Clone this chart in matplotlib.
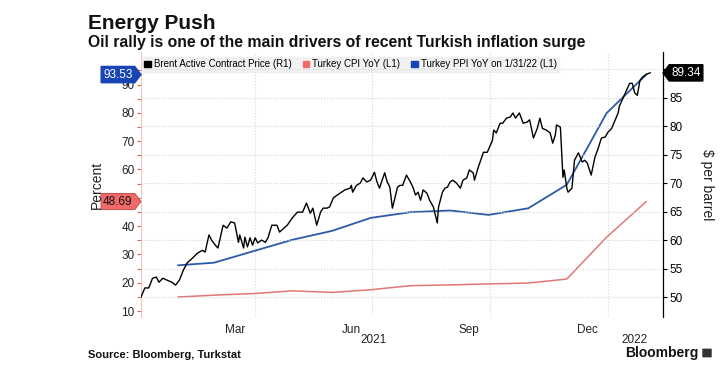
import matplotlib
matplotlib.use("Agg")
import matplotlib.pyplot as plt
from matplotlib.patches import Patch, FancyBboxPatch
from matplotlib.path import Path
import pandas as pd

plt.rcParams['font.family'] = ['Liberation Sans Narrow', 'Liberation Sans', 'DejaVu Sans']

# ---------------- data ----------------
brent_dates = [
    "2021-01-02","2021-01-05","2021-01-08","2021-01-11","2021-01-14","2021-01-16","2021-01-19",
    "2021-01-22","2021-01-26","2021-01-29","2021-02-01","2021-02-04","2021-02-07","2021-02-11",
    "2021-02-15","2021-02-19","2021-02-21","2021-02-24","2021-02-26","2021-03-01","2021-03-03",
    "2021-03-07","2021-03-10","2021-03-13","2021-03-16","2021-03-19","2021-03-20","2021-03-23",
    "2021-03-24","2021-03-26","2021-03-28","2021-03-30","2021-04-01","2021-04-03","2021-04-06",
    "2021-04-09","2021-04-11","2021-04-14","2021-04-18","2021-04-20","2021-04-22","2021-04-26",
    "2021-04-30","2021-05-04","2021-05-08","2021-05-11","2021-05-14","2021-05-16","2021-05-19",
    "2021-05-22","2021-05-24","2021-05-27","2021-05-29","2021-06-01","2021-06-04","2021-06-06",
    "2021-06-10","2021-06-14","2021-06-15","2021-06-16","2021-06-19","2021-06-22","2021-06-24",
    "2021-06-27","2021-06-30","2021-07-03","2021-07-05","2021-07-07","2021-07-09","2021-07-11",
    "2021-07-13","2021-07-15","2021-07-17","2021-07-19","2021-07-21","2021-07-23","2021-07-25",
    "2021-07-28","2021-07-31","2021-08-02","2021-08-04","2021-08-06","2021-08-08","2021-08-10",
    "2021-08-13","2021-08-15","2021-08-18","2021-08-21","2021-08-22","2021-08-25","2021-08-27",
    "2021-08-29","2021-08-31","2021-09-02","2021-09-05","2021-09-08","2021-09-10","2021-09-13",
    "2021-09-15","2021-09-18","2021-09-19","2021-09-22","2021-09-26","2021-09-29","2021-10-03",
    "2021-10-04","2021-10-06","2021-10-09","2021-10-11","2021-10-14","2021-10-17","2021-10-19",
    "2021-10-21","2021-10-24","2021-10-27","2021-10-30","2021-11-01","2021-11-04","2021-11-07",
    "2021-11-09","2021-11-11","2021-11-14","2021-11-17","2021-11-19","2021-11-21","2021-11-22",
    "2021-11-25","2021-11-27","2021-11-28","2021-11-30","2021-12-01","2021-12-04","2021-12-06",
    "2021-12-09","2021-12-12","2021-12-14","2021-12-16","2021-12-19","2021-12-22","2021-12-24",
    "2021-12-27","2021-12-30","2022-01-01","2022-01-04","2022-01-06","2022-01-09","2022-01-10",
    "2022-01-13","2022-01-16","2022-01-18","2022-01-20","2022-01-22","2022-01-24","2022-01-26",
    "2022-01-28","2022-01-31","2022-02-03",
]
brent_values = [
    50.0, 51.6, 51.6, 53.3, 53.5, 52.6, 53.3,
    53.0, 52.6, 52.1, 53.0, 54.7, 56.0, 56.8,
    57.7, 58.2, 57.9, 60.9, 60.0, 59.1, 58.6,
    62.6, 62.1, 63.2, 63.0, 59.6, 60.9, 58.6,
    60.5, 58.8, 60.4, 59.1, 60.4, 59.5, 60.0,
    59.6, 60.4, 62.6, 62.6, 61.4, 61.8, 62.6,
    63.9, 64.9, 64.9, 66.5, 64.7, 65.6, 62.6,
    64.9, 65.6, 65.6, 65.8, 67.4, 67.9, 68.2,
    68.8, 69.1, 69.6, 68.4, 69.6, 70.0, 70.9,
    70.2, 70.5, 71.9, 70.2, 69.1, 70.5, 71.8,
    70.2, 69.3, 65.6, 67.4, 69.3, 69.6, 69.6,
    71.4, 70.2, 69.3, 67.9, 68.4, 67.0, 68.8,
    68.2, 67.0, 65.8, 63.0, 65.8, 68.4, 69.1,
    69.3, 70.2, 70.5, 70.0, 69.1, 70.5, 70.9,
    72.3, 71.8, 70.5, 72.8, 75.4, 75.4, 77.5,
    79.3, 78.8, 80.5, 80.5, 81.4, 81.6, 82.3,
    81.4, 82.3, 80.5, 80.7, 81.1, 77.9, 79.6,
    81.4, 79.6, 79.3, 78.8, 77.0, 78.4, 80.2,
    79.8, 71.0, 72.3, 69.1, 68.4, 69.1, 74.0,
    75.3, 73.7, 74.0, 73.5, 71.4, 74.6, 75.8,
    77.9, 78.1, 78.9, 79.6, 80.7, 82.3, 83.5,
    85.0, 86.5, 87.5, 87.5, 85.8, 85.4, 88.0,
    88.6, 89.1, 89.34,
]

infl_dates = ["2021-01-31","2021-02-28","2021-03-31","2021-04-30","2021-05-31","2021-06-30",
              "2021-07-31","2021-08-31","2021-09-30","2021-10-31","2021-11-30","2021-12-31",
              "2022-01-31"]
cpi_values = [14.97, 15.61, 16.19, 17.14, 16.59, 17.53, 18.95, 19.25, 19.58, 19.89, 21.31, 36.08, 48.69]
ppi_values = [26.16, 27.09, 31.20, 35.17, 38.33, 42.89, 44.92, 45.52, 43.96, 46.31, 54.62, 79.89, 93.53]

legend_labels = ["Brent Active Contract Price (R1)", "Turkey CPI YoY (L1)", "Turkey PPI YoY on 1/31/22 (L1)"]
month_labels = ["Mar", "Jun", "Sep", "Dec"]
month_label_dates = ["2021-03-16", "2021-06-15", "2021-09-15", "2021-12-16"]
quarter_dates = ["2021-04-01", "2021-07-01", "2021-10-01", "2022-01-01"]
year_labels = ["2021", "2022"]
year_label_dates = ["2021-07-02", "2022-01-22"]
left_ticks = [10, 20, 30, 40, 50, 60, 70, 80, 90]
right_ticks = [50, 55, 60, 65, 70, 75, 80, 85, 90]

# colors
C_BRENT = "#000000"
C_CPI = "#e07878"
C_PPI = "#2b5aa8"
C_CPI_TAG = "#f06a6a"
C_PPI_TAG = "#1845b5"


def tag_right(x0, y0, width, height, mutation_size):
    pad = mutation_size * 0.18
    x0 -= pad; y0 -= pad
    w = width + 2 * pad; h = height + 2 * pad
    tip = h * 0.38
    verts = [(x0, y0), (x0 + w, y0), (x0 + w + tip, y0 + h / 2), (x0 + w, y0 + h), (x0, y0 + h), (x0, y0)]
    return Path(verts, closed=True)


def tag_left(x0, y0, width, height, mutation_size):
    pad = mutation_size * 0.18
    x0 -= pad; y0 -= pad
    w = width + 2 * pad; h = height + 2 * pad
    tip = h * 0.38
    verts = [(x0, y0), (x0 + w, y0), (x0 + w, y0 + h), (x0, y0 + h), (x0 - tip, y0 + h / 2), (x0, y0)]
    return Path(verts, closed=True)


bd = pd.to_datetime(brent_dates)
idt = pd.to_datetime(infl_dates)

fig = plt.figure(figsize=(7.2, 3.75), dpi=100)
ax = fig.add_axes([141/720, 1-317/375, (663-141)/720, (317-52)/375])
ax2 = ax.twinx()

ax.plot(idt, cpi_values, color=C_CPI, lw=1.1)
ax.plot(idt, ppi_values, color=C_PPI, lw=1.3)
ax2.plot(bd, brent_values, color=C_BRENT, lw=1.0)

ax.set_xlim(pd.Timestamp("2021-01-02"), pd.Timestamp("2022-02-13"))
ax.set_ylim(7.9, 101.5)
ax2.set_ylim(46.5, 93.0)

# left axis
ax.set_yticks(left_ticks)
ax.set_yticklabels([str(t) if t != 50 else "" for t in left_ticks])
ax.set_yticks(list(range(15, 101, 10)), minor=True)
ax.tick_params(axis='y', which='both', colors="#e06060", length=3, width=0.8, labelcolor='#222222', labelsize=8.5, pad=1.5)
ax.spines['left'].set_color("#f2c4c4")
ax.spines['left'].set_linewidth(0.8)
for s in ['top', 'bottom', 'right']:
    ax.spines[s].set_visible(False)
for s in ['top', 'bottom', 'left']:
    ax2.spines[s].set_visible(False)
ax2.spines['right'].set_color('black')
ax2.spines['right'].set_linewidth(0.9)
ax2.set_yticks(right_ticks)
ax2.set_yticklabels([str(t) if t < 90 else "" for t in right_ticks])
ax2.tick_params(axis='y', colors='black', length=3, width=0.8, labelsize=8.5, pad=1.5)

# grid
ax2.grid(axis='y', color='#d4d4d4', ls=':', lw=0.8)
ax.set_xticks(pd.to_datetime(quarter_dates))
ax.set_xticklabels([])
ax.tick_params(axis='x', which='major', length=0)
ax.grid(axis='x', color='#d4d4d4', ls=':', lw=0.8)
ax.set_xticks(pd.to_datetime(month_label_dates), minor=True)
ax.set_xticklabels(month_labels, minor=True)
ax.tick_params(axis='x', which='minor', length=0, labelsize=8.5, pad=5, labelcolor='#222222')
ax.set_axisbelow(True)
ax2.set_axisbelow(True)

xt = ax.get_xaxis_transform()
for lab, d in zip(year_labels, year_label_dates):
    ax.text(pd.Timestamp(d), -0.088, lab, transform=xt, ha='center', va='center', fontsize=8.5, color='#222222')

# value tags
yt = ax.get_yaxis_transform()
ax.text(-0.016, ppi_values[-1], f"{ppi_values[-1]:.2f}", transform=yt, ha='right', va='center',
        fontsize=8.5, color='white',
        bbox=dict(boxstyle=tag_right, fc=C_PPI_TAG, ec=C_PPI_TAG), zorder=10, clip_on=False)
ax.text(-0.016, cpi_values[-1], f"{cpi_values[-1]:.2f}", transform=yt, ha='right', va='center',
        fontsize=8.5, color='#111111',
        bbox=dict(boxstyle=tag_right, fc=C_CPI_TAG, ec='#c04040', lw=0.6), zorder=10, clip_on=False)
yt2 = ax2.get_yaxis_transform()
ax2.text(1.016, brent_values[-1], f"{brent_values[-1]:.2f}", transform=yt2, ha='left', va='center',
         fontsize=8.5, color='white',
         bbox=dict(boxstyle=tag_left, fc='black', ec='black'), zorder=10, clip_on=False)

# legend
handles = [Patch(color=C_BRENT), Patch(color=C_CPI_TAG), Patch(color=C_PPI_TAG)]
leg = ax.legend(handles, legend_labels, loc='upper left', bbox_to_anchor=(0.0, 0.985), ncol=3,
                fontsize=7, frameon=True, fancybox=False, handlelength=0.7, handleheight=0.7,
                handletextpad=0.3, columnspacing=1.1, borderpad=0.25, borderaxespad=0.1)
leg.get_frame().set_facecolor('#efefef')
leg.get_frame().set_edgecolor('#efefef')
leg.set_zorder(20)

# axis labels
fig.text(97/720, 1-185/375, "Percent", rotation=90, ha='center', va='center', fontsize=10, color='#222222')
fig.text(707/720, 1-185/375, "$ per barrel", rotation=270, ha='center', va='center', fontsize=10, color='#222222')

# titles
fig.text(88/720, 1-29/375, "Energy Push", ha='left', va='baseline', fontsize=15, fontweight='bold', color='#111111')
fig.text(88/720, 1-47/375, "Oil rally is one of the main drivers of recent Turkish inflation surge",
         ha='left', va='baseline', fontsize=11.3, fontweight='bold', color='#111111')
fig.text(88/720, 1-358/375, "Source: Bloomberg, Turkstat", ha='left', va='baseline', fontsize=8, fontweight='bold', color='#111111')
fig.text(698/720, 1-357/375, "Bloomberg", ha='right', va='baseline', fontsize=10, fontweight='bold', color='#111111')
fig.patches.append(FancyBboxPatch((703/720, 1-357/375), 8/720, 8/375, boxstyle="round,pad=0.001",
                                  transform=fig.transFigure, fc='#333333', ec='none'))

fig.savefig("out.png", dpi=100)
